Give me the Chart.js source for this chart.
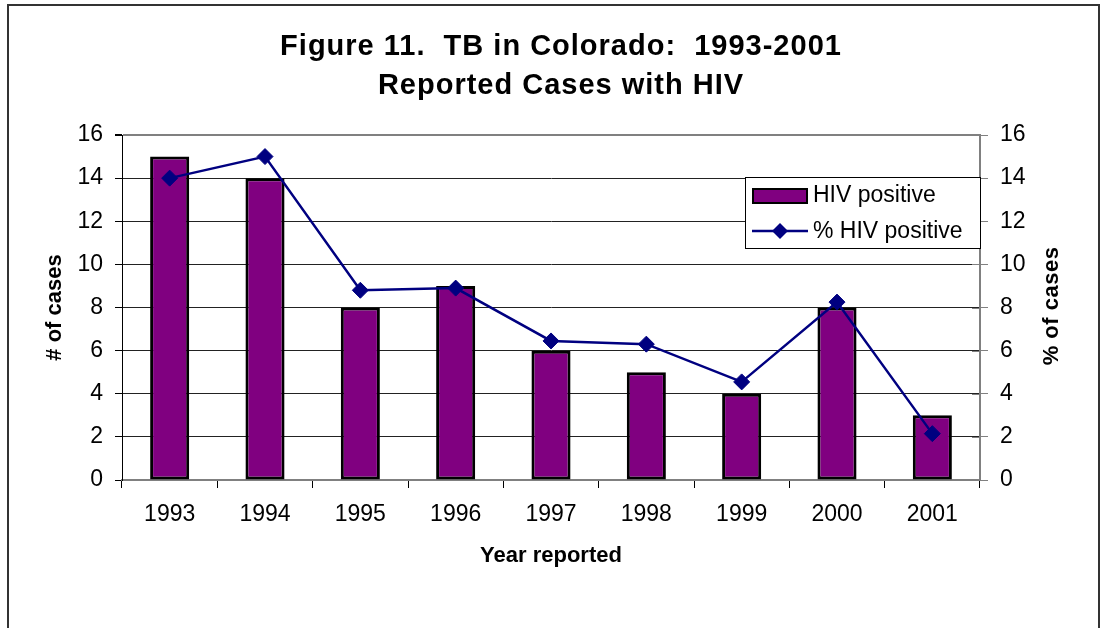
<!DOCTYPE html>
<html>
<head>
<meta charset="utf-8">
<script src="https://cdn.jsdelivr.net/npm/chart.js@4/dist/chart.umd.min.js"></script>
<style>
  html, body { margin: 0; padding: 0; background: #fff; }
  #wrap { width: 1103px; height: 628px; position: relative; }
</style>
</head>
<body>
<div id="wrap"><canvas id="chart" width="1103" height="628"></canvas></div>
<script>
const years = ['1993', '1994', '1995', '1996', '1997', '1998', '1999', '2000', '2001'];
const hivCases = [15, 14, 8, 9, 6, 5, 4, 8, 3];
const hivPercent = [14.0, 15.0, 8.8, 8.9, 6.45, 6.3, 4.55, 8.25, 2.15];
const titleLines = ['Figure 11.  TB in Colorado:  1993-2001', 'Reported Cases with HIV'];

const FONT = '"Liberation Sans", Arial, sans-serif';
const PURPLE = '#800080';
const NAVY = '#000080';

// frame, title, right axis title and legend box
const decor = {
  id: 'decor',
  afterDraw(chart) {
    const { ctx, chartArea: a } = chart;
    ctx.save();
    ctx.strokeStyle = '#333';
    ctx.lineWidth = 2;
    ctx.beginPath();
    ctx.moveTo(8, 640); ctx.lineTo(8, 5); ctx.lineTo(1099, 5); ctx.lineTo(1099, 640);
    ctx.stroke();

    ctx.fillStyle = '#000';
    ctx.textAlign = 'center';
    ctx.textBaseline = 'middle';
    ctx.font = `bold 29px ${FONT}`;
    ctx.letterSpacing = '1px';
    ctx.fillText(titleLines[0], 561, 47);
    ctx.fillText(titleLines[1], 561, 86);

    ctx.font = `bold 22px ${FONT}`;
    ctx.letterSpacing = '0.5px';
    ctx.translate(1052, 306);
    ctx.rotate(-Math.PI / 2);
    ctx.fillText('% of cases', 0, 0);
    ctx.setTransform(1, 0, 0, 1, 0, 0);
    ctx.letterSpacing = '0px';

    // right axis ticks cross the axis line
    const y1 = chart.scales.y1;
    ctx.strokeStyle = '#808080';
    ctx.lineWidth = 1;
    y1.ticks.forEach((t) => {
      const py = Math.round(y1.getPixelForValue(t.value)) + 0.5;
      ctx.beginPath(); ctx.moveTo(a.right - 8, py); ctx.lineTo(a.right, py); ctx.stroke();
    });

    // legend
    const bars = chart.data.datasets.find((d) => d.type !== 'line');
    const line = chart.data.datasets.find((d) => d.type === 'line');
    const lx = 745, ly = 177, lw = a.right - 745, lh = 71;
    ctx.fillStyle = '#fff';
    ctx.fillRect(lx, ly, lw, lh);
    ctx.strokeStyle = '#000';
    ctx.lineWidth = 1;
    ctx.strokeRect(lx + 0.5, ly + 0.5, lw, lh);
    ctx.fillStyle = bars.backgroundColor;
    ctx.fillRect(753, 189, 54, 14);
    ctx.strokeStyle = '#000';
    ctx.lineWidth = 2;
    ctx.strokeRect(753, 189, 54, 14);
    ctx.strokeStyle = line.borderColor;
    ctx.lineWidth = 2.5;
    ctx.beginPath(); ctx.moveTo(752, 231); ctx.lineTo(808, 231); ctx.stroke();
    ctx.fillStyle = line.backgroundColor;
    ctx.beginPath();
    ctx.moveTo(780, 223); ctx.lineTo(788, 231); ctx.lineTo(780, 239); ctx.lineTo(772, 231);
    ctx.closePath(); ctx.fill();
    ctx.fillStyle = '#000';
    ctx.font = `23px ${FONT}`;
    ctx.textAlign = 'left';
    ctx.fillText(bars.label, 813, 196);
    ctx.fillText(line.label, 813, 232);
    ctx.restore();
  },
};

new Chart(document.getElementById('chart'), {
  type: 'bar',
  data: {
    labels: years,
    datasets: [
      {
        type: 'line',
        label: '% HIV positive',
        data: hivPercent,
        yAxisID: 'y1',
        borderColor: NAVY,
        backgroundColor: NAVY,
        borderWidth: 2.5,
        pointStyle: 'rectRot',
        pointRadius: 8,
        pointBorderWidth: 1,
        tension: 0,
        order: 0,
      },
      {
        type: 'bar',
        label: 'HIV positive',
        data: hivCases,
        yAxisID: 'y',
        backgroundColor: PURPLE,
        borderColor: '#000',
        borderWidth: 3,
        borderSkipped: false,
        categoryPercentage: 1,
        barPercentage: 0.41,
        order: 1,
      },
    ],
  },
  options: {
    responsive: false,
    animation: false,
    layout: { padding: { top: 135, left: 0, right: 0, bottom: 0 } },
    plugins: { legend: { display: false }, title: { display: false }, tooltip: { enabled: false } },
    scales: {
      x: {
        afterFit: (s) => { s.height = 148; },
        grid: { drawOnChartArea: false, drawTicks: true, tickLength: 8, color: '#000', offset: true },
        border: { color: '#808080', width: 2 },
        ticks: { color: '#000', font: { family: FONT, size: 23 }, padding: 13, maxRotation: 0 },
        title: { display: true, text: 'Year reported', color: '#000', font: { family: FONT, size: 22, weight: 'bold' }, padding: { top: 0, bottom: 59 } },
      },
      y: {
        position: 'left',
        min: 0, max: 16,
        afterFit: (s) => { s.width = 122; },
        ticks: { stepSize: 2, color: '#000', font: { family: FONT, size: 23 }, padding: 12 },
        grid: {
          color: (c) => (c.tick && c.tick.value === 16 ? '#808080' : '#222'),
          lineWidth: (c) => (c.tick && c.tick.value === 16 ? 2 : 1),
          tickLength: 7,
          tickColor: '#000',
        },
        border: { color: '#000', width: 1 },
        title: { display: true, text: '# of cases', color: '#000', font: { family: FONT, size: 22, weight: 'bold' }, padding: { top: 42, bottom: 0 } },
      },
      y1: {
        position: 'right',
        min: 0, max: 16,
        afterFit: (s) => { s.width = 1103 - 980; },
        ticks: { stepSize: 2, color: '#000', font: { family: FONT, size: 23 }, padding: 12 },
        grid: { drawOnChartArea: false, tickLength: 8, color: '#808080' },
        border: { color: '#808080', width: 2 },
      },
    },
  },
  plugins: [decor],
});
</script>
</body>
</html>
